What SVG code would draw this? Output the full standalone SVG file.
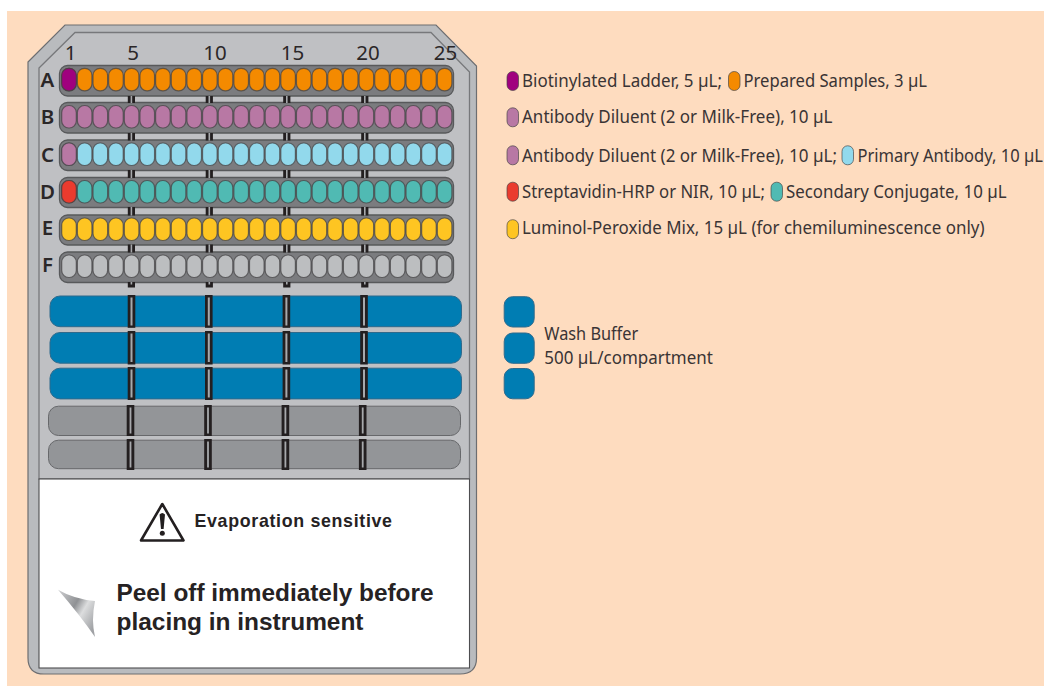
<svg xmlns="http://www.w3.org/2000/svg" width="1044" height="686" viewBox="0 0 1044 686">
<style>
.t{font-family:"Noto Sans","Open Sans",sans-serif;font-size:17.5px;fill:#3a3435}
.n{font-family:"Noto Sans","Open Sans",sans-serif;font-size:20.5px;fill:#2b2728;text-anchor:middle}
.r{font-family:"Noto Sans","Open Sans",sans-serif;font-size:20.5px;font-weight:600;fill:#2b2728;text-anchor:middle}
.b{font-family:"Liberation Sans",Arial,sans-serif;font-weight:700;fill:#262223}
.strip{fill:#7b7c7f;stroke:#58595b;stroke-width:1.3}
.well{stroke:#414042;stroke-opacity:.7;stroke-width:1.2}
.pill{stroke:#414042;stroke-opacity:.65;stroke-width:1}
.blue{fill:#007db3;stroke:#2f6a8c;stroke-width:1}
.gray{fill:#939598;stroke:#67686b;stroke-width:1}
.bar{fill:#231f20}
.slit{fill:#a7a9ac}
</style>
<defs>
<g id="wells">
<rect class="well" x="61.7" width="14.6" height="22.5" rx="7"/><rect class="well" x="77.35" width="14.6" height="22.5" rx="7"/><rect class="well" x="93" width="14.6" height="22.5" rx="7"/><rect class="well" x="108.65" width="14.6" height="22.5" rx="7"/><rect class="well" x="124.3" width="14.6" height="22.5" rx="7"/><rect class="well" x="139.95" width="14.6" height="22.5" rx="7"/><rect class="well" x="155.6" width="14.6" height="22.5" rx="7"/><rect class="well" x="171.25" width="14.6" height="22.5" rx="7"/><rect class="well" x="186.9" width="14.6" height="22.5" rx="7"/><rect class="well" x="202.55" width="14.6" height="22.5" rx="7"/><rect class="well" x="218.2" width="14.6" height="22.5" rx="7"/><rect class="well" x="233.85" width="14.6" height="22.5" rx="7"/><rect class="well" x="249.5" width="14.6" height="22.5" rx="7"/><rect class="well" x="265.15" width="14.6" height="22.5" rx="7"/><rect class="well" x="280.8" width="14.6" height="22.5" rx="7"/><rect class="well" x="296.45" width="14.6" height="22.5" rx="7"/><rect class="well" x="312.1" width="14.6" height="22.5" rx="7"/><rect class="well" x="327.75" width="14.6" height="22.5" rx="7"/><rect class="well" x="343.4" width="14.6" height="22.5" rx="7"/><rect class="well" x="359.05" width="14.6" height="22.5" rx="7"/><rect class="well" x="374.7" width="14.6" height="22.5" rx="7"/><rect class="well" x="390.35" width="14.6" height="22.5" rx="7"/><rect class="well" x="406" width="14.6" height="22.5" rx="7"/><rect class="well" x="421.65" width="14.6" height="22.5" rx="7"/><rect class="well" x="437.3" width="14.6" height="22.5" rx="7"/>
</g>
<g id="gaps">
<rect class="bar" x="-3.6" y="96" width="7.2" height="7"/><rect class="slit" x="-.8" y="96" width="1.6" height="7"/>
<rect class="bar" x="-3.6" y="133" width="7.2" height="7.5"/><rect class="slit" x="-.8" y="133" width="1.6" height="7.5"/>
<rect class="bar" x="-3.6" y="170" width="7.2" height="8"/><rect class="slit" x="-.8" y="170" width="1.6" height="8"/>
<rect class="bar" x="-3.6" y="207" width="7.2" height="8.5"/><rect class="slit" x="-.8" y="207" width="1.6" height="8.5"/>
<rect class="bar" x="-3.6" y="244.5" width="7.2" height="8"/><rect class="slit" x="-.8" y="244.5" width="1.6" height="8"/>
<rect class="bar" x="-3.6" y="282" width="7.2" height="5.5"/><rect class="slit" x="-.8" y="282" width="1.6" height="2.5"/>
</g>
<g id="bluecol">
<rect class="bar" x="-3.8" y="295" width="7.6" height="32.8"/><rect class="slit" x="-1" y="297.5" width="2" height="28"/>
<rect class="bar" x="-3.8" y="331" width="7.6" height="33.5"/><rect class="slit" x="-1" y="333.5" width="2" height="28.5"/>
<rect class="bar" x="-3.8" y="367" width="7.6" height="33"/><rect class="slit" x="-1" y="369.5" width="2" height="28"/>
</g>
<g id="graycol">
<rect class="bar" x="-3.8" y="405" width="7.6" height="31"/><rect class="slit" x="-.9" y="407.5" width="1.8" height="26"/>
<rect class="bar" x="-3.8" y="439" width="7.6" height="31"/><rect class="slit" x="-.9" y="441.5" width="1.8" height="26"/>
</g>
<linearGradient id="peel" x1="0" y1="0" x2="1" y2=".75">
<stop offset="0" stop-color="#cfd0d2"/><stop offset=".45" stop-color="#8f9194"/><stop offset=".65" stop-color="#dcddde"/><stop offset="1" stop-color="#a0a2a5"/>
</linearGradient>
</defs>
<rect id="background" x="7" y="11" width="1037" height="675" fill="#fedcbf"/>
<g id="plate">
<path d="M28 62 L65 25 H436 L476.5 66 V658 Q476.5 674 460 674 H44 Q28 674 28 658 Z" fill="#b9bbbe" stroke="#6d6e71" stroke-width="1.2"/>
<path d="M39 68 L75 32.5 H431 L469.5 72 V479 H39 Z" fill="#bfc0c3" stroke="#77787b" stroke-width="1.3"/>
</g>
<g id="cover">
<rect x="39" y="479" width="430.5" height="189" fill="#fff" stroke="#4d4d4f" stroke-width="1.1"/>
<path d="M162.3 504 L183.5 540.5 H141 Z" fill="none" stroke="#231f20" stroke-width="2.6" stroke-linejoin="round"/>
<path d="M159.6 514.5 Q162.3 511.5 165 514.5 L163.6 529 H161 Z" fill="#231f20"/>
<circle cx="162.3" cy="533.2" r="2.5" fill="#231f20"/>
<text class="b" x="194.5" y="526.8" font-size="17.8" textLength="197.5" lengthAdjust="spacing">Evaporation sensitive</text>
<path d="M58 589.7 Q74 599 95 601 Q91 620 95 637 Q80 615 58 589.7 Z" fill="url(#peel)"/>
<text class="b" x="116.5" y="600.5" font-size="24.5" textLength="317" lengthAdjust="spacingAndGlyphs">Peel off immediately before</text>
<text class="b" x="116.5" y="630" font-size="24.5" textLength="247" lengthAdjust="spacingAndGlyphs">placing in instrument</text>
</g>
<g id="column-numbers">
<text class="n" x="70.5" y="60">1</text><text class="n" x="133" y="60">5</text><text class="n" x="215" y="60">10</text><text class="n" x="292.5" y="60">15</text><text class="n" x="368" y="60">20</text><text class="n" x="445.5" y="60">25</text>
</g>
<g id="row-a">
<text class="r" x="47.5" y="87">A</text>
<rect class="strip" x="59.5" y="65.5" width="394" height="30.5" rx="8"/>
<use href="#wells" y="68.3" fill="#f48a00"/>
<rect class="well" x="61.7" y="68.3" width="14.6" height="22.5" rx="7" fill="#a0007e"/>
</g>
<g id="row-b">
<text class="r" x="47.5" y="124.3">B</text>
<rect class="strip" x="59.5" y="102.5" width="394" height="30.5" rx="8"/>
<use href="#wells" y="105.5" fill="#b878a4"/>
</g>
<g id="row-c">
<text class="r" x="47.5" y="161.7">C</text>
<rect class="strip" x="59.5" y="140" width="394" height="30.5" rx="8"/>
<use href="#wells" y="143" fill="#92d9ec"/>
<rect class="well" x="61.7" y="143" width="14.6" height="22.5" rx="7" fill="#b878a4"/>
</g>
<g id="row-d">
<text class="r" x="47.5" y="198.5">D</text>
<rect class="strip" x="59.5" y="177.5" width="394" height="30" rx="8"/>
<use href="#wells" y="180.5" fill="#50bab3"/>
<rect class="well" x="61.7" y="180.5" width="14.6" height="22.5" rx="7" fill="#ea3b2e"/>
</g>
<g id="row-e">
<text class="r" x="47.5" y="235.2">E</text>
<rect class="strip" x="59.5" y="215" width="394" height="30" rx="8"/>
<use href="#wells" y="218" fill="#fec522"/>
</g>
<g id="row-f">
<text class="r" x="47.5" y="272">F</text>
<rect class="strip" x="59.5" y="252" width="394" height="30.5" rx="8"/>
<use href="#wells" y="255" fill="#bcbec0"/>
</g>
<g id="wash-1"><rect class="blue" x="50" y="296" width="411.5" height="30.7" rx="10"/></g>
<g id="wash-2"><rect class="blue" x="50" y="332.5" width="411.5" height="30.7" rx="10"/></g>
<g id="wash-3"><rect class="blue" x="50" y="368.2" width="411.5" height="30.7" rx="10"/></g>
<g id="empty-1"><rect class="gray" x="48.5" y="406.2" width="412" height="29.3" rx="10"/></g>
<g id="empty-2"><rect class="gray" x="48.5" y="440.2" width="412" height="28.5" rx="10"/></g>
<g id="connectors">
<use href="#gaps" x="131.4"/><use href="#gaps" x="209.3"/><use href="#gaps" x="286.8"/><use href="#gaps" x="364.8"/>
<use href="#bluecol" x="131.5"/><use href="#bluecol" x="208.8"/><use href="#bluecol" x="286.4"/><use href="#bluecol" x="364"/>
<use href="#graycol" x="130.5"/><use href="#graycol" x="208"/><use href="#graycol" x="285.4"/><use href="#graycol" x="362.7"/>
</g>
<g id="legend-1">
<rect class="pill" x="507" y="71.5" width="11.5" height="19" rx="5.6" fill="#a0007e"/>
<text class="t" x="522" y="87" textLength="200" lengthAdjust="spacingAndGlyphs">Biotinylated Ladder, 5 µL;</text>
<rect class="pill" x="728.5" y="71.5" width="11.5" height="19" rx="5.6" fill="#f48a00"/>
<text class="t" x="743.5" y="87" textLength="183.5" lengthAdjust="spacingAndGlyphs">Prepared Samples, 3 µL</text>
</g>
<g id="legend-2">
<rect class="pill" x="507" y="107.8" width="11.5" height="19" rx="5.6" fill="#b878a4"/>
<text class="t" x="522" y="123" textLength="310.5" lengthAdjust="spacingAndGlyphs">Antibody Diluent (2 or Milk-Free), 10 µL</text>
</g>
<g id="legend-3">
<rect class="pill" x="507" y="145.8" width="11.5" height="19" rx="5.6" fill="#b878a4"/>
<text class="t" x="522" y="161.7" textLength="315" lengthAdjust="spacingAndGlyphs">Antibody Diluent (2 or Milk-Free), 10 µL;</text>
<rect class="pill" x="842" y="145.8" width="11.5" height="19" rx="5.6" fill="#92d9ec"/>
<text class="t" x="857.5" y="161.7" textLength="185.5" lengthAdjust="spacingAndGlyphs">Primary Antibody, 10 µL</text>
</g>
<g id="legend-4">
<rect class="pill" x="507" y="182.2" width="11.5" height="19" rx="5.6" fill="#ea3b2e"/>
<text class="t" x="522" y="197.7" textLength="243" lengthAdjust="spacingAndGlyphs">Streptavidin-HRP or NIR, 10 µL;</text>
<rect class="pill" x="771" y="182.2" width="11.5" height="19" rx="5.6" fill="#50bab3"/>
<text class="t" x="786" y="197.7" textLength="220.5" lengthAdjust="spacingAndGlyphs">Secondary Conjugate, 10 µL</text>
</g>
<g id="legend-5">
<rect class="pill" x="507" y="219.7" width="11.5" height="19" rx="5.6" fill="#fec522"/>
<text class="t" x="522" y="234" textLength="462.5" lengthAdjust="spacingAndGlyphs">Luminol-Peroxide Mix, 15 µL (for chemiluminescence only)</text>
</g>
<g id="legend-wash">
<rect class="blue" x="504.2" y="296.7" width="30" height="30.3" rx="8.5"/>
<rect class="blue" x="504.2" y="333" width="30" height="30.3" rx="8.5"/>
<rect class="blue" x="504.2" y="368.5" width="30" height="30.3" rx="8.5"/>
<text class="t" x="544.3" y="340.3" textLength="94" lengthAdjust="spacingAndGlyphs">Wash Buffer</text>
<text class="t" x="544.3" y="363.7" textLength="168.5" lengthAdjust="spacingAndGlyphs">500 µL/compartment</text>
</g>
</svg>
